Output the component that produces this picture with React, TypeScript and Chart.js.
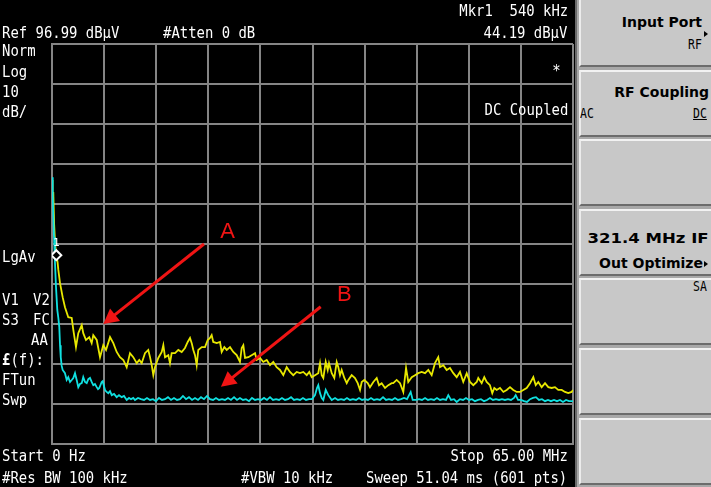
import React, { useEffect, useRef } from "react";
import { Chart, registerables } from "chart.js";

Chart.register(...registerables);

// ---- Instrument settings ----
const REF_LEVEL_DBUV = 96.99;
const DB_PER_DIV = 10;
const DIVISIONS = 10;
const START_MHZ = 0;
const STOP_MHZ = 65;

// ---- Marker 1 ----
const markerFreqMHz = 0.54;
const markerLevelDbuv = 44.19;

// ---- Trace A (yellow): [frequency MHz, level dBuV] ----
const traceA: [number, number][] = [
  [0, 62.99], [0.07, 57.99], [0.16, 59.99], [0.27, 51.7], [0.40, 46.7], [0.54, 44.19], [0.69, 42.5], [0.79, 40.5],
  [1.00, 37.2], [1.33, 33.7], [1.62, 31.2], [2.03, 28.7], [2.46, 28.5], [2.66, 25.5], [2.99, 21.2], [3.28, 24.7],
  [3.71, 26.7], [3.90, 24.7], [4.24, 23.0], [4.65, 23.7], [4.95, 22.2], [5.15, 24.2], [5.58, 23.0], [5.99, 18.7],
  [6.40, 21.7], [6.74, 20.5], [7.24, 23.7], [7.65, 22.2], [8.07, 20.0], [8.48, 18.7], [8.90, 18.0], [9.32, 16.2],
  [9.73, 19.7], [10.14, 18.7], [10.57, 17.2], [10.89, 18.0], [11.19, 17.2], [11.60, 19.7], [12.01, 20.5], [12.23, 18.7],
  [12.44, 16.7], [12.64, 14.2], [12.85, 16.2], [13.26, 18.5], [13.69, 20.0], [13.89, 21.7], [14.10, 18.7], [14.51, 19.2],
  [14.72, 17.2], [14.93, 19.7], [15.35, 19.7], [15.76, 20.5], [16.18, 20.0], [16.59, 21.0], [16.93, 22.5], [17.22, 23.5],
  [17.43, 22.2], [17.63, 20.5], [17.84, 19.2], [18.05, 16.7], [18.25, 20.5], [18.68, 21.2], [19.09, 21.2], [19.43, 23.0],
  [19.71, 23.5], [19.92, 24.2], [20.12, 22.5], [20.55, 22.2], [20.96, 22.5], [21.17, 20.0], [21.50, 21.2], [21.80, 20.5],
  [22.21, 21.2], [22.62, 20.0], [23.04, 19.2], [23.45, 17.5], [23.67, 21.0], [23.87, 21.7], [24.08, 18.5], [24.49, 18.7],
  [24.91, 19.2], [25.33, 19.7], [25.54, 18.0], [25.95, 18.5], [26.36, 17.5], [26.79, 18.0], [27.20, 16.7], [27.61, 17.5],
  [28.03, 16.2], [28.45, 15.5], [28.86, 14.2], [29.28, 16.2], [29.69, 15.0], [30.10, 14.2], [30.53, 15.0], [30.94, 14.7],
  [31.35, 15.0], [31.78, 14.2], [32.10, 15.0], [32.40, 13.7], [32.81, 14.2], [33.22, 14.7], [33.44, 17.2], [33.65, 14.2],
  [33.85, 13.5], [34.15, 17.5], [34.40, 15.5], [34.56, 17.2], [34.90, 14.7], [35.22, 13.5], [35.52, 17.5], [35.72, 16.2],
  [35.93, 14.2], [36.14, 15.5], [36.47, 13.5], [36.77, 12.2], [36.97, 13.0], [37.39, 14.2], [37.80, 13.5], [38.14, 12.2],
  [38.43, 10.5], [38.64, 12.5], [38.96, 13.0], [39.39, 12.2], [39.67, 11.2], [40.09, 12.5], [40.51, 13.5], [40.80, 11.7],
  [41.13, 12.2], [41.55, 11.0], [41.96, 11.7], [42.38, 12.2], [42.58, 12.2], [43.00, 13.0], [43.42, 12.2], [43.83, 10.0],
  [44.17, 16.0], [44.45, 12.5], [44.88, 13.7], [45.29, 14.2], [45.70, 14.7], [46.12, 15.0], [46.54, 14.7], [46.95, 15.5],
  [47.37, 14.2], [47.78, 17.2], [48.19, 18.7], [48.41, 16.2], [48.82, 16.7], [49.24, 15.5], [49.65, 16.0], [50.07, 14.7],
  [50.49, 13.7], [50.90, 15.0], [51.31, 12.5], [51.74, 14.7], [52.15, 12.5], [52.56, 11.7], [52.99, 12.5], [53.18, 13.5],
  [53.61, 12.2], [53.93, 13.7], [54.23, 12.5], [54.64, 11.7], [54.93, 9.7], [55.18, 11.0], [55.48, 10.5], [55.89, 11.0],
  [56.31, 10.0], [56.73, 10.5], [57.14, 11.2], [57.55, 10.5], [57.98, 10.0], [58.39, 10.0], [58.80, 10.5], [59.22, 11.0],
  [59.64, 12.2], [60.05, 13.7], [60.35, 11.7], [60.67, 12.5], [61.09, 11.2], [61.51, 12.2], [61.92, 11.2], [62.34, 11.0],
  [62.75, 11.2], [63.16, 10.5], [63.59, 10.5], [64.00, 10.0], [64.41, 9.7], [64.83, 10.0], [65.00, 10.5],
];

// ---- Trace B (cyan): [frequency MHz, level dBuV] ----
const traceB: [number, number][] = [
  [0, 63.7], [0.09, 59.2], [0.16, 54.2], [0.25, 48.7], [0.37, 42.5], [0.50, 36.2], [0.66, 30.5], [0.79, 28.5],
  [0.91, 26.2], [1.00, 21.7], [1.09, 18.7], [1.21, 16.5], [1.33, 15.5], [1.62, 14.7], [1.83, 13.0], [2.03, 13.7],
  [2.25, 12.5], [2.46, 13.0], [2.66, 13.5], [2.87, 14.7], [3.08, 13.0], [3.28, 11.2], [3.49, 12.0], [3.71, 12.2],
  [3.90, 13.7], [4.12, 12.5], [4.33, 12.2], [4.53, 13.2], [4.74, 13.5], [4.95, 12.5], [5.15, 11.7], [5.36, 12.0],
  [5.58, 11.2], [5.74, 10.7], [5.90, 11.0], [6.20, 12.5], [6.33, 12.7], [6.61, 10.5], [6.82, 10.0], [7.02, 9.7],
  [7.24, 10.2], [7.45, 9.2], [7.74, 9.5], [8.07, 8.7], [8.36, 9.2], [8.70, 8.7], [8.98, 9.0], [9.32, 8.0],
  [9.61, 8.5], [9.86, 8.2], [10.14, 8.5], [10.35, 8.0], [10.73, 8.5], [11.10, 8.2], [11.48, 8.0], [11.85, 8.5],
  [12.23, 8.0], [12.60, 8.2], [12.97, 7.7], [13.35, 8.5], [13.72, 8.0], [14.10, 8.2], [14.47, 8.7], [14.85, 8.0],
  [15.22, 8.5], [15.60, 8.0], [15.97, 8.2], [16.34, 9.0], [16.72, 8.2], [17.09, 8.7], [17.47, 8.0], [17.84, 8.5],
  [18.22, 8.0], [18.59, 8.7], [18.96, 8.2], [19.34, 9.0], [19.71, 8.2], [20.09, 8.0], [20.46, 8.5], [20.84, 8.0],
  [21.21, 8.2], [21.58, 8.0], [21.96, 8.5], [22.33, 8.0], [22.71, 8.7], [23.08, 8.0], [23.45, 8.5], [23.83, 8.0],
  [24.20, 8.2], [24.58, 7.7], [24.95, 8.5], [25.33, 8.0], [25.70, 8.2], [26.08, 8.0], [26.45, 8.5], [26.82, 8.0],
  [27.20, 8.7], [27.57, 8.0], [27.95, 8.2], [28.32, 8.0], [28.69, 8.5], [29.07, 8.0], [29.44, 8.2], [29.82, 8.7],
  [30.19, 8.0], [30.57, 8.2], [30.94, 8.0], [31.31, 8.5], [31.69, 8.0], [32.06, 8.2], [32.44, 8.2], [32.81, 9.2],
  [33.06, 11.0], [33.22, 11.7], [33.44, 9.7], [33.65, 8.5], [33.85, 8.0], [34.15, 10.5], [34.47, 9.2], [34.90, 8.0],
  [35.31, 8.5], [35.68, 8.0], [36.06, 8.2], [36.43, 8.0], [36.80, 8.5], [37.18, 8.0], [37.55, 8.2], [37.93, 8.0],
  [38.30, 8.5], [38.68, 8.0], [39.05, 8.2], [39.42, 8.0], [39.80, 8.5], [40.17, 8.0], [40.55, 8.2], [40.92, 8.0],
  [41.30, 8.7], [41.67, 8.0], [42.04, 8.2], [42.42, 8.0], [42.79, 8.5], [43.17, 8.0], [43.54, 8.2], [43.92, 8.5],
  [44.29, 8.2], [44.75, 10.0], [45.00, 8.0], [45.41, 8.0], [45.79, 8.2], [46.16, 8.0], [46.54, 8.5], [46.91, 8.0],
  [47.28, 8.2], [47.66, 8.0], [48.03, 8.5], [48.41, 8.0], [48.78, 8.2], [49.16, 8.0], [49.44, 9.2], [49.78, 8.0],
  [50.15, 8.2], [50.49, 7.5], [50.90, 8.2], [51.28, 8.0], [51.65, 8.5], [52.03, 8.0], [52.40, 8.2], [52.77, 7.7],
  [53.15, 8.0], [53.52, 8.2], [53.90, 7.7], [54.27, 8.0], [54.64, 8.5], [55.02, 8.0], [55.39, 8.2], [55.77, 8.0],
  [56.14, 8.2], [56.51, 8.0], [56.89, 8.2], [57.26, 8.0], [57.64, 8.5], [57.85, 9.2], [58.14, 8.0], [58.51, 8.0],
  [58.89, 7.7], [59.26, 7.5], [59.64, 8.2], [60.01, 8.5], [60.38, 8.7], [60.76, 8.0], [61.13, 8.2], [61.51, 7.7],
  [61.88, 8.0], [62.25, 7.7], [62.63, 8.0], [63.00, 7.7], [63.38, 8.0], [63.75, 7.5], [64.13, 8.0], [64.50, 7.7],
  [65.00, 7.7],
];

// ---- Annotations (data coordinates: MHz, dBuV) ----
const annotationLabels = ["A", "B"];
const arrowFrom: [number, number][] = [[18.96, 46.99], [33.52, 31.3]];
const arrowTo: [number, number][] = [[6.40, 26.99], [21.08, 11.3]];
const labelAt: [number, number][] = [[21.92, 50.5], [36.47, 34.8]];

const RED = "#f01414";
const GRID = "#858585";

const overlayPlugin = {
  id: "overlay",
  afterDatasetsDraw(chart: any) {
    const ctx = chart.ctx as CanvasRenderingContext2D;
    const xs = chart.scales.x;
    const ys = chart.scales.y;
    ctx.save();
    // marker label
    const mx = xs.getPixelForValue(markerFreqMHz);
    const my = ys.getPixelForValue(markerLevelDbuv);
    ctx.fillStyle = "#ffffff";
    ctx.font = '11px "DejaVu Sans Mono"';
    ctx.textAlign = "center";
    ctx.textBaseline = "alphabetic";
    ctx.fillText("1", mx, my - 9);
    // arrows
    for (let i = 0; i < annotationLabels.length; i++) {
      const x0 = xs.getPixelForValue(arrowFrom[i][0]);
      const y0 = ys.getPixelForValue(arrowFrom[i][1]);
      const x1 = xs.getPixelForValue(arrowTo[i][0]);
      const y1 = ys.getPixelForValue(arrowTo[i][1]);
      const ang = Math.atan2(y1 - y0, x1 - x0);
      const head = 15;
      const half = 8;
      const bx = x1 - head * Math.cos(ang);
      const by = y1 - head * Math.sin(ang);
      ctx.strokeStyle = RED;
      ctx.lineWidth = 3;
      ctx.lineCap = "butt";
      ctx.beginPath();
      ctx.moveTo(x0, y0);
      ctx.lineTo(bx + 2 * Math.cos(ang), by + 2 * Math.sin(ang));
      ctx.stroke();
      ctx.fillStyle = RED;
      ctx.beginPath();
      ctx.moveTo(x1, y1);
      ctx.lineTo(bx + half * Math.sin(ang), by - half * Math.cos(ang));
      ctx.lineTo(bx - half * Math.sin(ang), by + half * Math.cos(ang));
      ctx.closePath();
      ctx.fill();
      const tx = xs.getPixelForValue(labelAt[i][0]);
      const ty = ys.getPixelForValue(labelAt[i][1]);
      ctx.font = '22px "Liberation Sans"';
      ctx.textAlign = "center";
      ctx.textBaseline = "alphabetic";
      ctx.fillText(annotationLabels[i], tx, ty + 8);
    }
    ctx.restore();
  },
};

type TProps = {
  x?: number;
  right?: number;
  cy: number;
  size?: number;
  color?: string;
  scale?: number;
  family?: string;
  bold?: boolean;
  underline?: boolean;
  children: React.ReactNode;
};

const W = 711;
const H = 487;

function T({ x, right, cy, size = 16, color = "#ffffff", scale = 0.87, family = '"DejaVu Sans Mono"', bold = false, underline = false, children }: TProps) {
  const isRight = right !== undefined;
  return (
    <div
      style={{
        position: "absolute",
        top: cy - 0.48 * size,
        left: isRight ? undefined : x,
        right: isRight ? W - (right as number) : undefined,
        fontFamily: family,
        fontSize: size,
        lineHeight: `${size}px`,
        fontWeight: bold ? "bold" : "normal",
        color,
        whiteSpace: "pre",
        transform: `scaleX(${scale})`,
        transformOrigin: isRight ? "right center" : "left center",
        textDecoration: underline ? "underline" : "none",
      }}
    >
      {children}
    </div>
  );
}

function SoftKey({ index }: { index: number }) {
  const top = Math.round(index * 69.6);
  return (
    <div
      style={{
        position: "absolute",
        left: 2,
        top,
        width: 134,
        height: 67,
        boxSizing: "border-box",
        background: "#c8c8c8",
        borderTop: index === 0 ? "none" : "2px solid #f2f2f2",
        borderBottom: "2px solid #6c6c6c",
        borderLeft: "2px solid #ececec",
      }}
    />
  );
}

function ArrowMark({ x, cy }: { x: number; cy: number }) {
  return (
    <div
      style={{
        position: "absolute",
        left: x,
        top: cy - 3,
        width: 0,
        height: 0,
        borderTop: "3px solid transparent",
        borderBottom: "3px solid transparent",
        borderLeft: "4px solid #000",
      }}
    />
  );
}

export default function App() {
  const canvasRef = useRef<HTMLCanvasElement | null>(null);

  useEffect(() => {
    if (!canvasRef.current) return;
    const yMin = REF_LEVEL_DBUV - DB_PER_DIV * DIVISIONS;
    const chart = new Chart(canvasRef.current, {
      type: "line",
      data: {
        datasets: [
          {
            label: "Marker 1",
            data: [{ x: markerFreqMHz, y: markerLevelDbuv }],
            showLine: false,
            pointStyle: "rectRot",
            pointRadius: 5,
            pointBorderWidth: 2,
            pointBorderColor: "#ffffff",
            pointBackgroundColor: "#000000",
            order: 0,
          },
          {
            label: "Trace B",
            data: traceB.map(([f, v]) => ({ x: f, y: v })),
            borderColor: "#10e0e0",
            borderWidth: 1.8,
            pointRadius: 0,
            tension: 0,
            order: 1,
          },
          {
            label: "Trace A",
            data: traceA.map(([f, v]) => ({ x: f, y: v })),
            borderColor: "#e8e800",
            borderWidth: 1.8,
            pointRadius: 0,
            tension: 0,
            order: 2,
          },
        ],
      },
      options: {
        animation: false,
        responsive: false,
        maintainAspectRatio: false,
        devicePixelRatio: 1,
        layout: { padding: { left: 52, top: 44, right: 138, bottom: 43 } },
        plugins: { legend: { display: false }, tooltip: { enabled: false }, title: { display: false } },
        scales: {
          x: {
            type: "linear",
            min: START_MHZ,
            max: STOP_MHZ,
            afterBuildTicks: (axis: any) => {
              const t = [];
              for (let i = 0; i <= DIVISIONS; i++) t.push({ value: START_MHZ + ((STOP_MHZ - START_MHZ) * i) / DIVISIONS });
              axis.ticks = t;
            },
            ticks: { display: false },
            grid: { color: GRID, lineWidth: 2, drawTicks: false },
            border: { display: true, color: GRID, width: 2 },
          },
          y: {
            type: "linear",
            min: yMin,
            max: REF_LEVEL_DBUV,
            afterBuildTicks: (axis: any) => {
              const t = [];
              for (let i = 0; i <= DIVISIONS; i++) t.push({ value: yMin + DB_PER_DIV * i });
              axis.ticks = t;
            },
            ticks: { display: false },
            grid: { color: GRID, lineWidth: 2, drawTicks: false },
            border: { display: true, color: GRID, width: 2 },
          },
        },
      },
      plugins: [overlayPlugin],
    });
    return () => chart.destroy();
  }, []);

  const key = { size: 14, color: "#000", scale: 1, family: '"DejaVu Sans"', bold: true };
  const small = { size: 14, color: "#000", scale: 0.82 };

  return (
    <div style={{ position: "fixed", left: 0, top: 0, width: W, height: H, background: "#000", overflow: "hidden" }}>
      <canvas ref={canvasRef} width={W} height={H} style={{ position: "absolute", left: 0, top: 0 }} />

      {/* header */}
      <T right={568} cy={11}>Mkr1  540 kHz</T>
      <T x={2} cy={33}>Ref 96.99 dBμV</T>
      <T x={163} cy={33}>#Atten 0 dB</T>
      <T right={567} cy={33}>44.19 dBμV</T>

      {/* left annotations */}
      <T x={2} cy={51}>Norm</T>
      <T x={2} cy={72}>Log</T>
      <T x={2} cy={92}>10</T>
      <T x={2} cy={112}>dB/</T>
      <T x={2} cy={257}>LgAv</T>
      <T x={2} cy={300}>V1</T>
      <T x={33} cy={300}>V2</T>
      <T x={2} cy={320}>S3</T>
      <T x={33} cy={320}>FC</T>
      <T x={31} cy={340}>AA</T>
      <T x={2} cy={360}><b>£</b>(f):</T>
      <T x={2} cy={380}>FTun</T>
      <T x={2} cy={400}>Swp</T>

      {/* right in-grid annotations */}
      <T right={561} cy={71}>*</T>
      <T right={568} cy={110}>DC Coupled</T>

      {/* footer */}
      <T x={2} cy={456}>Start 0 Hz</T>
      <T right={568} cy={456}>Stop 65.00 MHz</T>
      <T x={2} cy={478}>#Res BW 100 kHz</T>
      <T x={241} cy={478}>#VBW 10 kHz</T>
      <T right={567} cy={478}>Sweep 51.04 ms (601 pts)</T>

      {/* softkey panel */}
      <div style={{ position: "absolute", left: 575, top: 0, width: 136, height: H, background: "#a8a8a8", borderLeft: "2px solid #6a6a6a", boxSizing: "border-box" }}>
        {[0, 1, 2, 3, 4, 5, 6].map((i) => (
          <SoftKey key={i} index={i} />
        ))}
      </div>
      <T right={702} cy={22} {...key}>Input Port</T>
      <ArrowMark x={704} cy={34} />
      <T right={702} cy={44} {...small}>RF</T>
      <T right={709} cy={92} {...key}>RF Coupling</T>
      <T x={580} cy={113} {...small}>AC</T>
      <T right={707} cy={113} {...small} underline>DC</T>
      <T right={709} cy={238} {...key} scale={1.18}>321.4 MHz IF</T>
      <T right={703} cy={263} {...key}>Out Optimize</T>
      <ArrowMark x={704} cy={264} />
      <T right={707} cy={286} {...small}>SA</T>
    </div>
  );
}
